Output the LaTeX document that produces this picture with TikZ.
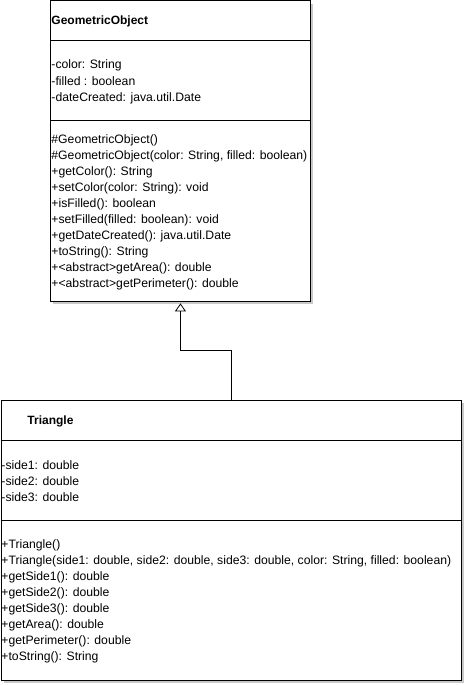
\documentclass[tikz,border=0pt]{standalone}
\usepackage{fontspec}
\setmainfont{Liberation Sans}
\usetikzlibrary{arrows.meta,shadows}
\definecolor{myshadow}{RGB}{200,200,200}

\begin{document}
\begin{tikzpicture}[x=1pt,y=-1pt,line width=0.9pt,
  font=\fontsize{12.2}{16}\selectfont,
  classbox/.style={draw,fill=white,inner sep=0pt,anchor=north west,
    drop shadow={shadow xshift=3pt,shadow yshift=-3pt,fill=myshadow,opacity=1}},
  member/.style={anchor=base west,inner sep=1pt},
  title/.style={member,font=\fontsize{12}{16}\selectfont\bfseries},
  extends/.style={-{Triangle[open,width=11pt,length=8pt]},line width=0.8pt}]

  \useasboundingbox (0,0) rectangle (465,685);

  % class boxes
  \node[classbox,minimum width=260pt,minimum height=300pt] (geo) at (50,0.5) {};
  \node[classbox,minimum width=460pt,minimum height=280pt] (tri) at (0.5,400) {};

  % compartments
  \draw (geo.west |- 0,40) -- (geo.east |- 0,40)
        (geo.west |- 0,120) -- (geo.east |- 0,120);
  \draw (tri.west |- 0,440) -- (tri.east |- 0,440)
        (tri.west |- 0,520) -- (tri.east |- 0,520);

  % GeometricObject members
  \node[title] (geo-name) at (50,25) {GeometricObject};
  \foreach \txt [count=\i] in {-color: String,-filled : boolean,-dateCreated: java.util.Date}
    \node[member] (geo-a\i) at (50,53+16*\i) {\txt};
  \foreach \txt [count=\i] in {\#GeometricObject(),{\#GeometricObject(color: String, filled: boolean)},
    +getColor(): String,+setColor(color: String): void,+isFilled(): boolean,
    +setFilled(filled: boolean): void,+getDateCreated(): java.util.Date,+toString(): String,
    +<abstract>getArea(): double,+<abstract>getPerimeter(): double}
    \node[member] (geo-m\i) at (50,127+16*\i) {\txt};

  % Triangle members
  \node[title] (tri-name) at (26,424) {Triangle};
  \foreach \txt [count=\i] in {-side1: double,-side2: double,-side3: double}
    \node[member] (tri-a\i) at (0,453+16*\i) {\txt};
  \foreach \txt [count=\i] in {+Triangle(),
    {+Triangle(side1: double, side2: double, side3: double, color: String, filled: boolean)},
    +getSide1(): double,+getSide2(): double,+getSide3(): double,
    +getArea(): double,+getPerimeter(): double,+toString(): String}
    \node[member] (tri-m\i) at (0,532+16*\i) {\txt};

  % generalization
  \draw[extends] (tri.north) -- ++(0,-50) -| ([yshift=-2pt]geo.south);

\end{tikzpicture}
\end{document}
